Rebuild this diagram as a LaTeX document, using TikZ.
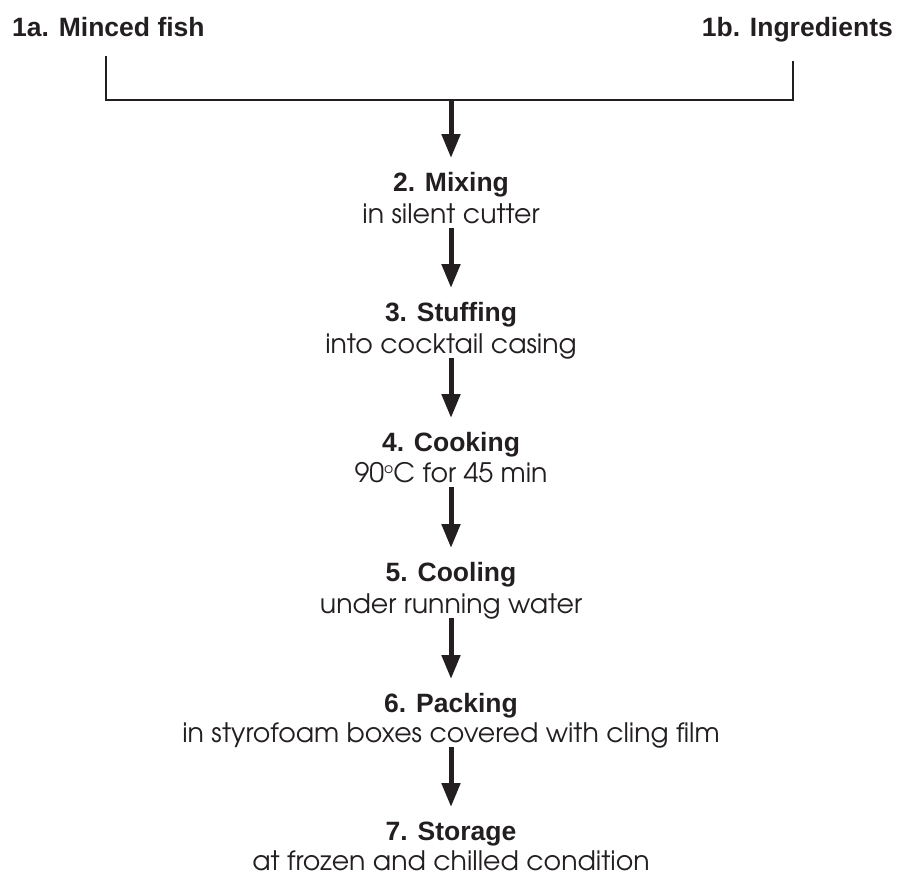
\documentclass[tikz,border=0pt]{standalone}
\usepackage{fontspec}
\setmainfont{Liberation Sans}
\newfontfamily\lightfont{texgyreadventor-regular.otf}
\usetikzlibrary{arrows.meta}
\definecolor{ink}{HTML}{231F20}
\begin{document}
\begin{tikzpicture}[x=1pt,y=-1pt,
  title/.style={font=\fontsize{26.5}{30}\selectfont\bfseries, text=ink, inner sep=0pt, anchor=base},
  detail/.style={font=\fontsize{26.8}{30}\selectfont\lightfont, text=ink, inner sep=0pt, anchor=base},
  bracket/.style={draw=ink, line width=2pt},
  flow/.style={draw=ink, line width=5pt, -{Triangle[width=18pt,length=24pt]}}]
\useasboundingbox (0,0) rectangle (904,875);

% inputs
\node[title, anchor=base west] (in1) at (12,37) {1a. Minced fish};
\node[title, anchor=base east] (in2) at (893,37) {1b. Ingredients};

% process steps
\node[title]  (t2) at (451,191) {2. Mixing};
\node[detail] (d2) at (451,223) {in silent cutter};
\node[title]  (t3) at (451,321) {3. Stuffing};
\node[detail] (d3) at (451,353) {into cocktail casing};
\node[title]  (t4) at (451,451) {4. Cooking};
\node[detail] (d4) at (451,482) {90\raisebox{0.55ex}{\fontsize{14}{14}\selectfont o}C for 45 min};
\node[title]  (t5) at (451,581) {5. Cooling};
\node[detail] (d5) at (451,613) {under running water};
\node[title]  (t6) at (451,712) {6. Packing};
\node[detail] (d6) at (451,742) {in styrofoam boxes covered with cling film};
\node[title]  (t7) at (451,840) {7. Storage};
\node[detail] (d7) at (451,870) {at frozen and chilled condition};

% joining bracket
\coordinate (ja) at (106,56);
\coordinate (jb) at (793,61);
\coordinate (jm) at (451,100);
\draw[bracket] (ja) |- (jm) -| (jb);

% flow arrows
\draw[flow] (jm) -- ([yshift=33pt]t2.base);
\draw[flow] ([yshift=-5pt]d2.base) -- ([yshift=33pt]t3.base);
\draw[flow] ([yshift=-5pt]d3.base) -- ([yshift=33pt]t4.base);
\draw[flow] ([yshift=-5pt]d4.base) -- ([yshift=33pt]t5.base);
\draw[flow] ([yshift=-5pt]d5.base) -- ([yshift=33pt]t6.base);
\draw[flow] ([yshift=-5pt]d6.base) -- ([yshift=33pt]t7.base);
\end{tikzpicture}
\end{document}
